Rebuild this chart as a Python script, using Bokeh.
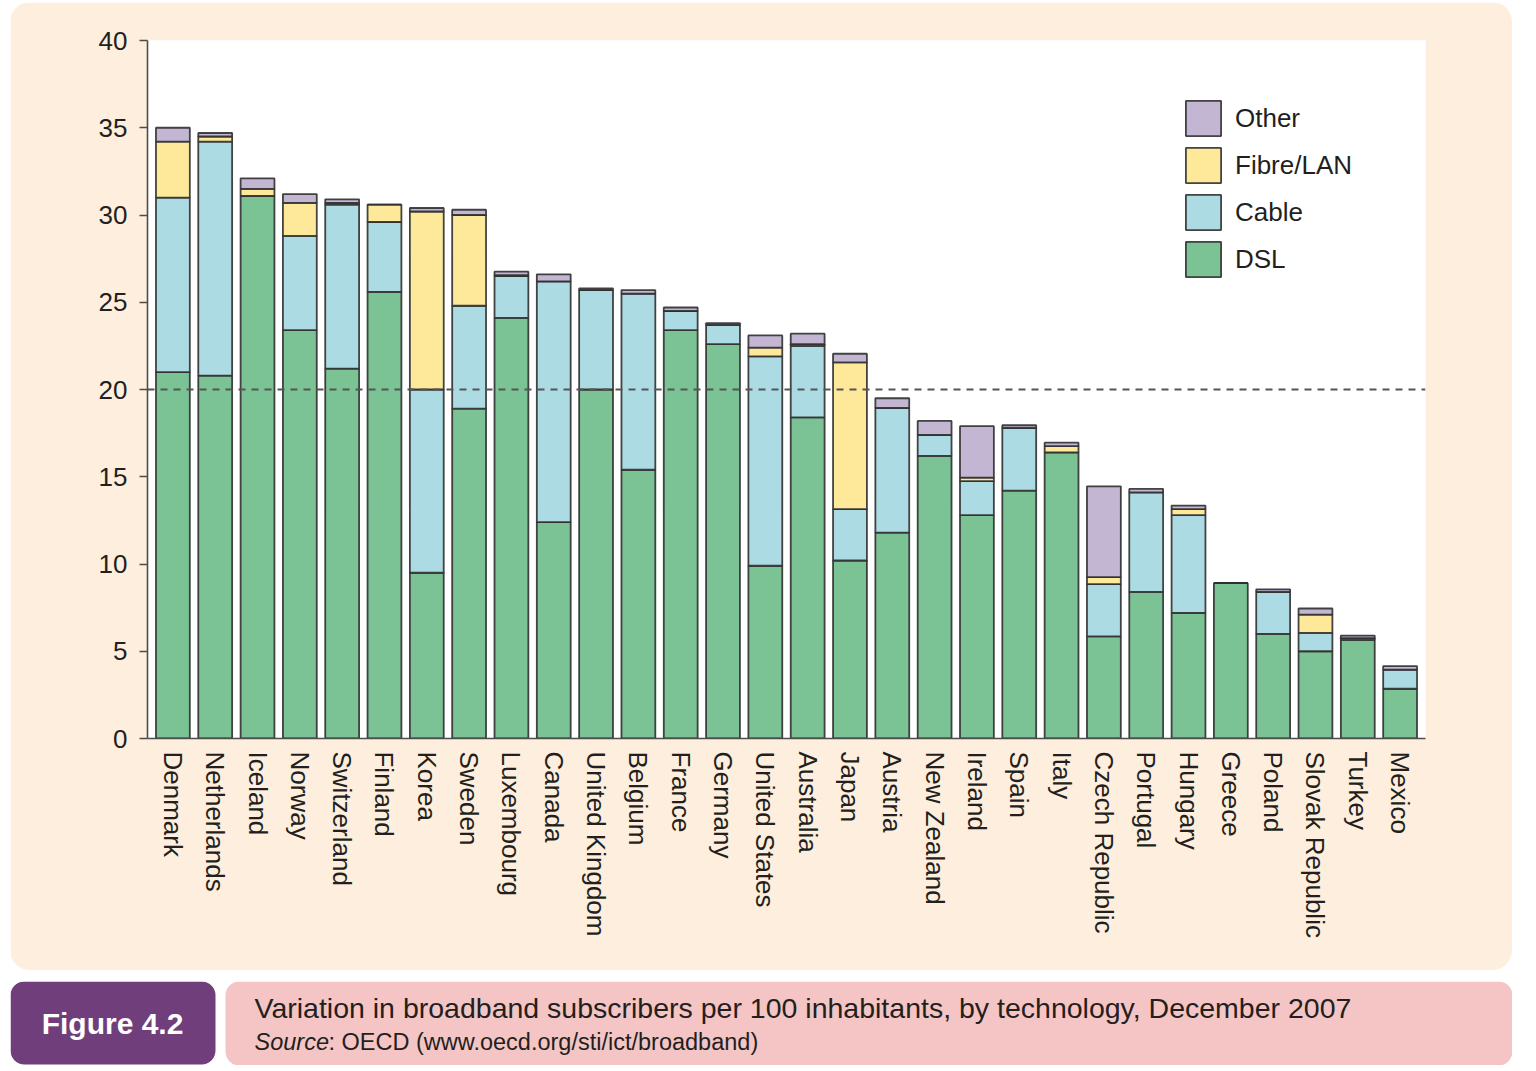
import math
from bokeh.plotting import figure
from bokeh.models import FactorRange, Range1d, Span, Legend, LegendItem, BoxAnnotation, Label
from bokeh.layouts import column, row
from bokeh.embed import file_html
from bokeh.resources import INLINE
from bokeh.core.properties import value

countries = ["Denmark", "Netherlands", "Iceland", "Norway", "Switzerland", "Finland", "Korea",
             "Sweden", "Luxembourg", "Canada", "United Kingdom", "Belgium", "France", "Germany",
             "United States", "Australia", "Japan", "Austria", "New Zealand", "Ireland", "Spain",
             "Italy", "Czech Republic", "Portugal", "Hungary", "Greece", "Poland",
             "Slovak Republic", "Turkey", "Mexico"]
dsl = [21.0, 20.8, 31.1, 23.4, 21.2, 25.6, 9.5, 18.9, 24.1, 12.4, 20.0, 15.4, 23.4, 22.6, 9.9,
       18.4, 10.2, 11.8, 16.2, 12.8, 14.2, 16.4, 5.85, 8.4, 7.2, 8.9, 6.0, 5.0, 5.65, 2.85]
cable = [10.0, 13.4, 0.0, 5.4, 9.4, 4.0, 10.5, 5.9, 2.4, 13.8, 5.7, 10.1, 1.1, 1.1, 12.0,
         4.1, 2.95, 7.15, 1.2, 1.95, 3.6, 0.0, 3.0, 5.7, 5.6, 0.0, 2.4, 1.05, 0.1, 1.1]
fibre = [3.2, 0.3, 0.4, 1.9, 0.1, 1.0, 10.2, 5.2, 0.05, 0.0, 0.0, 0.0, 0.0, 0.0, 0.5,
         0.1, 8.4, 0.0, 0.0, 0.2, 0.0, 0.35, 0.4, 0.0, 0.35, 0.0, 0.0, 1.05, 0.0, 0.0]
other = [0.8, 0.2, 0.6, 0.5, 0.2, 0.0, 0.2, 0.3, 0.2, 0.4, 0.1, 0.2, 0.2, 0.1, 0.7,
         0.6, 0.5, 0.55, 0.8, 2.95, 0.15, 0.2, 5.2, 0.2, 0.2, 0.0, 0.15, 0.35, 0.15, 0.2]
series_names = ["DSL", "Cable", "Fibre/LAN", "Other"]
y_ticks = [0, 5, 10, 15, 20, 25, 30, 35, 40]
reference_level = 20

FONT = "Liberation Sans"
TXT = "#231f20"
colors = ["#7bc294", "#acdbe3", "#fee99b", "#c3b6d3"]

p = figure(x_range=FactorRange(factors=countries, range_padding=0.1, range_padding_units="absolute"),
           y_range=Range1d(0, 40), frame_width=1278, frame_height=698,
           min_border_left=137, min_border_right=87, min_border_top=38, min_border_bottom=232,
           output_backend="svg", toolbar_location=None)
p.border_fill_color = "#fdeedd"
p.background_fill_color = "white"
p.outline_line_color = None
p.grid.visible = False
p.styles = {"border-radius": "20px", "overflow": "hidden"}

data = {"country": countries, "DSL": dsl, "Cable": cable, "Fibre/LAN": fibre, "Other": other}
rends = p.vbar_stack(series_names, x="country", width=0.8, source=data, color=colors,
                     line_color="#303030", line_width=1.8, line_alpha=0.9)

p.add_layout(Span(location=reference_level, dimension="width", line_color="#555555",
                  line_dash="7 6", line_width=2))

items = [LegendItem(label=n, renderers=[r]) for n, r in zip(series_names[::-1], rends[::-1])]
legend = Legend(items=items, location=(1034, 457), glyph_width=44, glyph_height=44, spacing=3,
                padding=0, margin=0, label_standoff=10, label_text_font_size="26px",
                label_text_font=FONT, label_text_color=TXT, border_line_color=None,
                background_fill_alpha=0)
p.add_layout(legend)

for ax in (p.xaxis, p.yaxis):
    ax.axis_line_color = "#4d4d4d"
    ax.axis_line_width = 1.6
    ax.major_label_text_font = FONT
    ax.major_label_text_font_size = "26px"
    ax.major_label_text_color = TXT
    ax.minor_tick_line_color = None

p.xaxis.major_label_orientation = "vertical"
p.xaxis.major_tick_line_color = None
p.xaxis.major_label_standoff = 7
p.yaxis.ticker = y_ticks
p.yaxis.major_tick_in = 0
p.yaxis.major_tick_out = 8
p.yaxis.major_tick_line_color = "#4d4d4d"
p.yaxis.major_tick_line_width = 1.6
p.yaxis.major_label_standoff = 12

# caption strip: a borderless figure whose frame is the whole strip, ranges in page pixels
cap = figure(x_range=Range1d(10, 1512), y_range=Range1d(1065, 981), width=1502, height=84,
             min_border=0, output_backend="svg", toolbar_location=None)
cap.axis.visible = False
cap.grid.visible = False
cap.outline_line_color = None
cap.background_fill_color = "white"
cap.border_fill_color = "white"
cap.add_layout(BoxAnnotation(left=10, right=215, top=981, bottom=1064, fill_color="#6f3e7b",
                             fill_alpha=1, line_color=None, border_radius=14, level="underlay"))
cap.add_layout(BoxAnnotation(left=225, right=1512, top=981, bottom=1065, fill_color="#f4c5c4",
                             fill_alpha=1, line_color=None, border_radius=14, level="underlay"))
cap.add_layout(Label(x=112, y=1023, text="Figure 4.2", text_align="center", text_baseline="middle",
                     text_color="white", text_font_style="bold", text_font_size="30px", text_font=FONT))
cap.add_layout(Label(x=254, y=1007,
                     text="Variation in broadband subscribers per 100 inhabitants, by technology, December 2007",
                     text_align="left", text_baseline="middle", text_color=TXT, text_font_size="28.5px",
                     text_font=FONT))
cap.add_layout(Label(x=254, y=1041, text="Source", text_align="left", text_baseline="middle",
                     text_color=TXT, text_font_size="23.5px", text_font_style="italic", text_font=FONT))
cap.add_layout(Label(x=328, y=1041, text=": OECD (www.oecd.org/sti/ict/broadband)", text_align="left",
                     text_baseline="middle", text_color=TXT, text_font_size="23.5px", text_font=FONT))

layout = column(p, row(cap), spacing=11, margin=(2, 0, 0, 10))
open("out.html", "w").write(file_html(layout, INLINE))
